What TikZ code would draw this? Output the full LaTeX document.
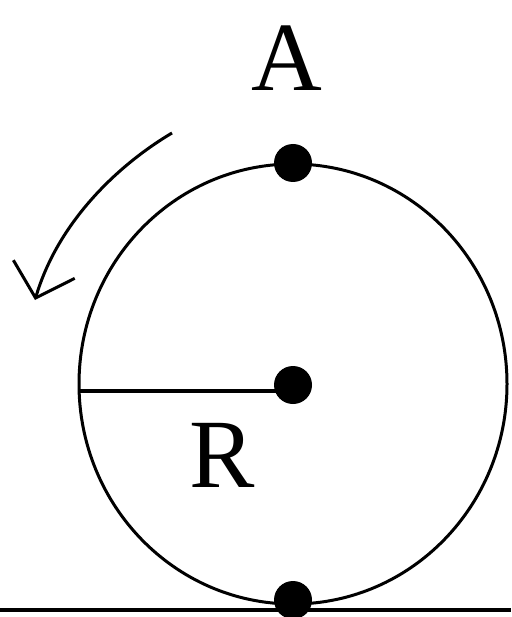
\documentclass[tikz,border=0pt]{standalone}
\usepackage{fontspec}
\setmainfont{Liberation Serif}
\usetikzlibrary{arrows.meta}
\begin{document}
\begin{tikzpicture}[x=1pt,y=-1pt,
  dotmark/.style={circle,fill=black,inner sep=0pt,minimum size=38pt},
  lbl/.style={font=\fontsize{98}{98}\selectfont,inner sep=0pt}]
\useasboundingbox (0,0) rectangle (511,617);
% circle
\draw[line width=3pt] (293,384) ellipse [x radius=214, y radius=220];
% ground
\coordinate (gl) at (0,610);
\coordinate (gr) at (511,610);
\draw[line width=4pt] (gl) -- (gr);
% dots
\node[dotmark] (top) at (293,163) {};
\node[dotmark] (bot) at (293,600) {};
\node[dotmark] (ctr) at (293,385) {};
% radius
\coordinate (lft) at (80,391);
\draw[line width=3.5pt] (lft) -- (ctr.center |- lft);
% labels
\node[lbl] (A) at (287,58) {A};
\node[lbl] (R) at (222,455) {R};
% rotation arrow
\coordinate (as) at (172,133);
\coordinate (ae) at (35,300);
\draw[line width=3pt,-{Straight Barb[length=30pt,width=64pt,line width=3pt]}]
  (as) .. controls (118,165) and (58,222) .. (ae);
\end{tikzpicture}
\end{document}
